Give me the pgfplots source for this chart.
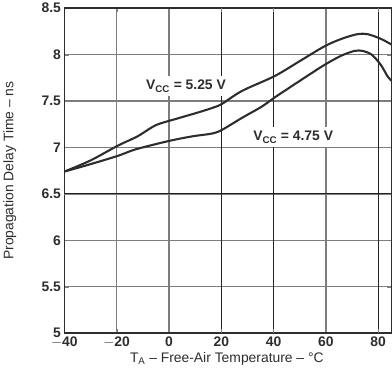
\documentclass[border=0pt]{standalone}
\usepackage{pgfplots}
\pgfplotsset{compat=1.18}
\usepackage{fontspec}
\setmainfont{Liberation Sans}
\definecolor{gridgray}{RGB}{125,125,125}
\definecolor{griddark}{RGB}{35,35,35}
\definecolor{ink}{RGB}{45,45,45}
\begin{document}
\begin{tikzpicture}
\begin{axis}[
  scale only axis, width=330pt, height=328pt,
  xmin=-40, xmax=85, ymin=5, ymax=8.5,
  xtick={-40,-20,0,20,40,60,80},
  ytick={5,5.5,6,6.5,7,7.5,8,8.5},
  xticklabels={$-$40,$-$20,0,20,40,60,80},
  yticklabel style={/pgf/number format/fixed},
  /pgf/number format/assume math mode=true,
  xmajorgrids, ymajorgrids,
  every major grid/.style={draw=gridgray, line width=1.3pt},
  extra x ticks={20,40,80}, extra x tick labels={},
  extra y ticks={6.5}, extra y tick labels={},
  extra tick style={every major grid/.append style={draw=griddark, line width=1.2pt}},
  tick align=inside,
  axis line style={line width=1.5pt, draw=ink},
  tick label style={font=\fontsize{14}{16}\selectfont\bfseries, text=ink},
  xlabel={T\textsubscript{A} -- Free-Air Temperature -- °C},
  ylabel={Propagation Delay Time -- ns},
  label style={font=\fontsize{14}{16}\selectfont, text=ink},
  xlabel style={at={(axis description cs:0.497,-0.08)}, anchor=center},
  ylabel style={at={(axis description cs:-0.167,0.5)}, anchor=center},
]
\addplot[ink, line width=2.1pt, smooth] coordinates {
(-40,6.74) (-30,6.86) (-19.5,7.02) (-12,7.12) (-5,7.24) (3,7.31) (11.5,7.38) (17,7.43) (20.3,7.47) (28,7.61) (40.5,7.77) (50,7.93) (59.5,8.09) (66,8.17) (72,8.22) (76,8.22) (81,8.17) (85,8.11)
};
\addplot[ink, line width=2.1pt, smooth] coordinates {
(-40,6.74) (-30,6.82) (-19.5,6.91) (-12.7,6.98) (0,7.07) (9,7.12) (16.5,7.15) (20.3,7.19) (28,7.32) (35.5,7.44) (40.5,7.54) (50.7,7.73) (59.5,7.89) (66,7.99) (71,8.04) (74,8.04) (77.5,8.0) (81,7.89) (83.5,7.77) (85,7.72)
};
\node[fill=white, inner xsep=5pt, inner ysep=4pt, font=\fontsize{14}{16}\selectfont\bfseries, text=ink] at (axis cs:6.5,7.66) {V\textsubscript{CC} = 5.25 V};
\node[fill=white, inner xsep=5pt, inner ysep=4pt, font=\fontsize{14}{16}\selectfont\bfseries, text=ink] at (axis cs:47.5,7.11) {V\textsubscript{CC} = 4.75 V};
\end{axis}
\end{tikzpicture}
\end{document}
